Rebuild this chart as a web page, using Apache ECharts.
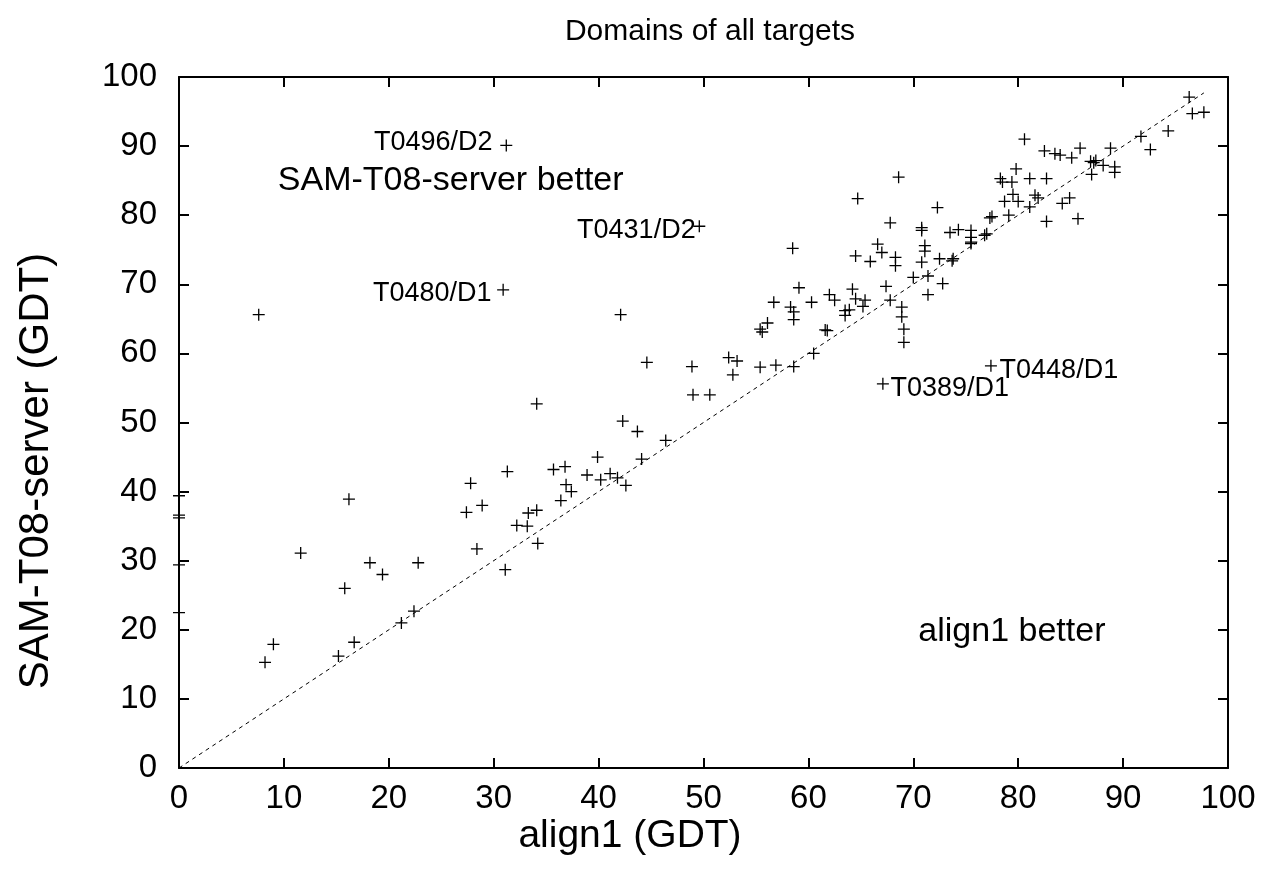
<!DOCTYPE html>
<html>
<head>
<meta charset="utf-8">
<script src="https://cdn.jsdelivr.net/npm/echarts@6/dist/echarts.min.js"></script>
<style>
html,body{margin:0;padding:0;background:#fff;}
#chart{width:1269px;height:881px;}
</style>
</head>
<body>
<div id="chart"></div>
<script>
// align1 GDT (x) and SAM-T08-server GDT (y)
const alignGDT = [
  0, 0, 0, 0, 0,
  7.6,
  8.2, 9.0, 11.6, 16.2, 15.8, 16.7, 15.2, 18.2, 19.4, 22.8, 21.2, 22.4,
  27.8, 27.4, 28.9, 28.4, 31.3, 31.1, 32.2, 33.2, 33.3, 34.1, 34.2, 34.1,
  35.7, 36.8, 36.9, 37.4, 36.4, 38.9, 39.9, 40.2, 41.1, 41.8, 42.6, 44.1, 42.3, 43.7, 46.4,
  42.1, 44.6, 48.9, 49.0, 50.6, 52.4, 53.2, 52.8, 55.4, 56.9, 58.6, 60.5,
  55.4, 55.6, 56.1, 56.7, 58.3, 58.6, 58.6, 59.1, 58.5, 60.3, 62.0, 62.5, 61.6, 61.8,
  64.2, 64.5, 65.4, 65.2, 63.5, 63.9, 63.5, 64.5, 65.9, 66.6, 67.0, 67.4, 67.8,
  68.3, 68.3, 68.9, 68.9, 69.1, 69.1, 70.0, 71.4, 71.4, 72.8, 73.7, 73.8, 72.5, 70.8, 71.1, 71.1, 75.5,
  64.7, 68.6, 67.8, 70.8, 70.8, 72.3, 73.5, 74.3, 75.5, 75.5, 75.5, 76.8, 77.0, 77.3, 77.5, 79.1,
  79.8, 78.3, 78.5, 79.4, 81.1, 82.7, 79.5, 78.7, 80.0, 81.6, 81.9, 81.1, 84.2, 84.9, 82.7, 85.7,
  80.6, 82.5, 83.5, 84.0, 85.1, 85.9, 88.8, 86.9, 87.2, 87.4, 87.0, 88.1, 89.2, 89.2,
  91.7, 92.6, 94.3, 96.3, 96.6, 97.7
];
const samGDT = [
  39.4, 36.6, 36.2, 29.4, 22.5,
  65.6,
  15.3, 17.9, 31.1, 38.9, 26.0, 18.2, 16.2, 29.7, 28.0, 29.7, 21.0, 22.7,
  41.2, 37.0, 38.0, 31.7, 42.9, 28.7, 35.1, 35.0, 36.9, 37.3, 32.5, 52.7,
  43.2, 43.6, 41.0, 40.0, 38.7, 42.4, 45.0, 41.7, 42.6, 42.0, 40.9, 44.7, 50.2, 48.7, 47.4,
  65.6, 58.7, 58.1, 54.0, 54.0, 59.4, 58.9, 56.9, 58.0, 58.3, 58.1, 60.0,
  63.5, 63.1, 64.4, 67.4, 66.7, 66.0, 64.9, 69.5, 75.2, 67.4, 68.5, 67.7, 63.4, 63.3,
  69.3, 67.9, 67.7, 66.8, 66.2, 66.3, 65.5, 74.1, 73.3, 75.8, 74.6, 69.7, 67.7,
  73.9, 72.7, 66.7, 65.3, 63.5, 61.6, 71.0, 71.2, 68.5, 70.1, 73.4, 73.7, 73.7, 73.2, 75.6, 74.8, 75.9,
  82.4, 85.5, 78.9, 78.2, 77.8, 81.1, 77.5, 77.9, 77.8, 76.8, 76.1, 77.1, 77.3, 79.6, 79.8, 80.0,
  86.7, 85.3, 84.8, 84.8, 85.3, 85.3, 83.0, 82.0, 82.0, 82.9, 82.5, 81.2, 81.7, 82.5, 79.1, 79.5,
  91.0, 89.3, 88.9, 88.7, 88.3, 89.7, 89.7, 87.8, 87.6, 87.9, 85.9, 87.2, 87.0, 86.2,
  91.4, 89.5, 92.2, 97.1, 94.7, 94.9
];

// labelled targets
const labelNames = ['T0496/D2', 'T0431/D2', 'T0480/D1', 'T0389/D1', 'T0448/D1'];
const labelX = [31.2, 49.6, 30.9, 67.1, 77.4];
const labelY = [90.1, 78.4, 69.2, 55.6, 58.2];

// region annotations
const regionTexts = ['SAM-T08-server better', 'align1 better'];
const regionX = [25.9, 79.4];
const regionY = [85.0, 19.7];

// diagonal reference line endpoints
const diagX = [0, 97.7];

// tick values
const tickMin = 0, tickMax = 100, tickStep = 10;

const FONT = "'Liberation Sans', Arial, Helvetica, sans-serif";
const plusSymbol = 'path://M0,5L10,5M5,0L5,10';

const labelStyles = {
  'T0496/D2': {position: 'left', distance: 7, offset: [0, -3]},
  'T0431/D2': {position: 'left', distance: -3, offset: [0, 4]},
  'T0480/D1': {position: 'left', distance: 5, offset: [0, 4]},
  'T0389/D1': {position: 'right', distance: 1, offset: [0, 5]},
  'T0448/D1': {position: 'right', distance: 2, offset: [0, 5]}
};

const mainData = alignGDT.map((x, i) => [x, samGDT[i]]);
const labelData = labelNames.map((n, i) => {
  const st = labelStyles[n];
  return {
    name: n,
    value: [labelX[i], labelY[i]],
    label: {show: true, formatter: n, position: st.position, distance: st.distance, offset: st.offset,
            fontSize: 27, fontFamily: FONT, color: '#000'}
  };
});
const regionData = regionTexts.map((t, i) => ({
  name: t,
  value: [regionX[i], regionY[i]],
  label: {show: true, formatter: t, position: 'inside', fontSize: 34, fontFamily: FONT, color: '#000'}
}));

const axisCommon = {
  type: 'value', min: tickMin, max: tickMax, interval: tickStep,
  axisLine: {show: true, onZero: false, lineStyle: {color: '#000', width: 2}},
  axisTick: {show: true, inside: true, length: 10, lineStyle: {color: '#000', width: 2}},
  splitLine: {show: false}
};

const plusStyle = {color: 'rgba(0,0,0,0)', borderColor: '#000', borderWidth: 1.3, opacity: 1};

const chart = echarts.init(document.getElementById('chart'), null, {renderer: 'canvas'});
chart.setOption({
  backgroundColor: '#fff',
  animation: false,
  title: {
    text: 'Domains of all targets', left: 705, top: 12, textAlign: 'center',
    textStyle: {fontSize: 30, fontWeight: 'normal', fontFamily: FONT, color: '#000'}
  },
  grid: {left: 179, right: 41, top: 77, bottom: 113, containLabel: false},
  xAxis: [
    Object.assign({}, axisCommon, {
      position: 'bottom',
      axisLabel: {fontSize: 33, fontFamily: FONT, color: '#000', margin: 14}
    }),
    Object.assign({}, axisCommon, {position: 'top', axisLabel: {show: false}})
  ],
  yAxis: [
    Object.assign({}, axisCommon, {
      position: 'left',
      axisLabel: {fontSize: 33, fontFamily: FONT, color: '#000', margin: 22}
    }),
    Object.assign({}, axisCommon, {position: 'right', axisLabel: {show: false}})
  ],
  graphic: [
    {
      type: 'text', x: 630, y: 836, silent: true,
      style: {text: 'align1 (GDT)', fontSize: 39, fontFamily: FONT, fill: '#000',
              textAlign: 'center', textVerticalAlign: 'middle'}
    },
    {
      type: 'text', x: 36, y: 471, rotation: Math.PI / 2, silent: true,
      style: {text: 'SAM-T08-server (GDT)', fontSize: 42, fontFamily: FONT, fill: '#000',
              textAlign: 'center', textVerticalAlign: 'middle'}
    }
  ],
  series: [
    {
      type: 'line', xAxisIndex: 0, yAxisIndex: 0,
      data: diagX.map(v => [v, v]), symbol: 'none', silent: true,
      lineStyle: {color: '#000', width: 1, type: [4, 4]}, z: 1
    },
    {
      type: 'scatter', xAxisIndex: 0, yAxisIndex: 0,
      data: mainData, symbol: plusSymbol, symbolSize: 12, clip: false,
      itemStyle: plusStyle, z: 3
    },
    {
      type: 'scatter', xAxisIndex: 0, yAxisIndex: 0,
      data: labelData, symbol: plusSymbol, symbolSize: 12, clip: false,
      itemStyle: plusStyle, z: 3
    },
    {
      type: 'scatter', xAxisIndex: 0, yAxisIndex: 0,
      data: regionData, symbolSize: 0, silent: true,
      itemStyle: {color: 'rgba(0,0,0,0)', opacity: 1}, z: 4
    }
  ]
});
</script>
</body>
</html>
